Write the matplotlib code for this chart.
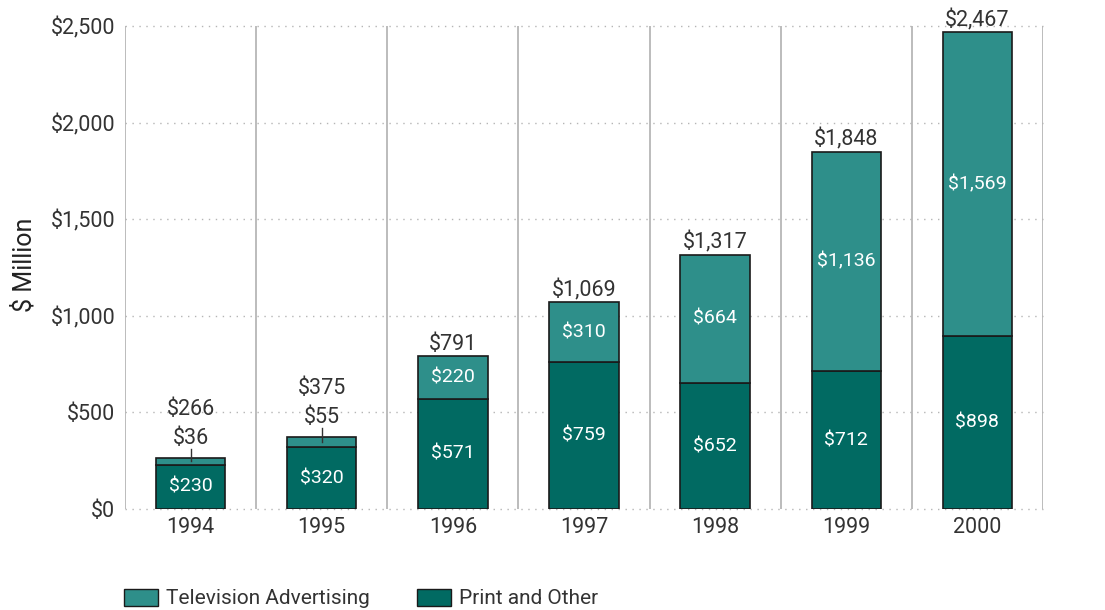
import matplotlib
matplotlib.use("Agg")
import matplotlib.pyplot as plt
from matplotlib.patches import Patch

plt.rcParams['font.family'] = ['Roboto', 'DejaVu Sans']

years = ['1994', '1995', '1996', '1997', '1998', '1999', '2000']
print_other = [230, 320, 571, 759, 652, 712, 898]
television = [36, 55, 220, 310, 664, 1136, 1569]
totals = [266, 375, 791, 1069, 1317, 1848, 2467]

c_tv = '#2e8f8a'
c_print = '#016a62'
txt = '#333333'

fig = plt.figure(figsize=(11.05, 6.10), dpi=100)
ax = fig.add_axes([125/1105, 1-509/610, (1043-125)/1105, (509-26)/610])

x = range(len(years))
w = 0.53
ax.bar(x, print_other, w, color=c_print, edgecolor='#1a1a1a', linewidth=1.2, zorder=3)
ax.bar(x, television, w, bottom=print_other, color=c_tv, edgecolor='#1a1a1a', linewidth=1.2, zorder=3)

ax.set_xlim(-0.5, 6.5)
ax.set_ylim(0, 2500)
ax.set_yticks([0, 500, 1000, 1500, 2000, 2500])
ax.set_yticklabels(['$0', '$500', '$1,000', '$1,500', '$2,000', '$2,500'])
ax.set_xticks(list(x))
ax.set_xticklabels(years)
ax.tick_params(axis='both', length=0, labelsize=15.5, labelcolor=txt)
ax.tick_params(axis='x', pad=6)
ax.tick_params(axis='y', pad=7)

for s in ax.spines.values():
    s.set_visible(False)
for k in range(8):
    ax.axvline(k - 0.5, color='#aaaaaa', linewidth=1.1, zorder=1)
for v in [0, 500, 1000, 1500, 2000, 2500]:
    ax.axhline(v, color='#b5b5b5', linewidth=1, linestyle=(0, (1, 4)), zorder=1, clip_on=False)

ax.set_ylabel('$ Million', fontsize=18, color='#222222')
ax.yaxis.set_label_coords(-0.096, 0.505)

for i in x:
    p, t, tot = print_other[i], television[i], totals[i]
    ax.text(i, p / 2, f'${p:,}', ha='center', va='center', color='white', fontsize=14, zorder=4)
    if t > 100:
        ax.text(i, p + t / 2, f'${t:,}', ha='center', va='center', color='white', fontsize=14, zorder=4)
        ax.annotate(f'${tot:,}', (i, tot), xytext=(0, 1), textcoords='offset points',
                    ha='center', va='bottom', color=txt, fontsize=15.5)
    else:
        mid = p + t / 2
        ax.plot([i, i], [mid, tot + 45], color='#333333', linewidth=1, zorder=4)
        ax.text(i, tot + 45, f'${t:,}', ha='center', va='bottom', color=txt, fontsize=15.5)
        ax.text(i, tot + 195, f'${tot:,}', ha='center', va='bottom', color=txt, fontsize=15.5)

handles = [Patch(facecolor=c_tv, edgecolor='#1a1a1a', label='Television Advertising'),
           Patch(facecolor=c_print, edgecolor='#1a1a1a', label='Print and Other')]
fig.legend(handles=handles, loc='lower left', bbox_to_anchor=(105/1105, -0.028), ncol=2,
           frameon=False, fontsize=15, handlelength=1.63, handleheight=0.87,
           handletextpad=0.38, columnspacing=2.3, labelcolor=txt)

fig.savefig('out.png', dpi=100)
